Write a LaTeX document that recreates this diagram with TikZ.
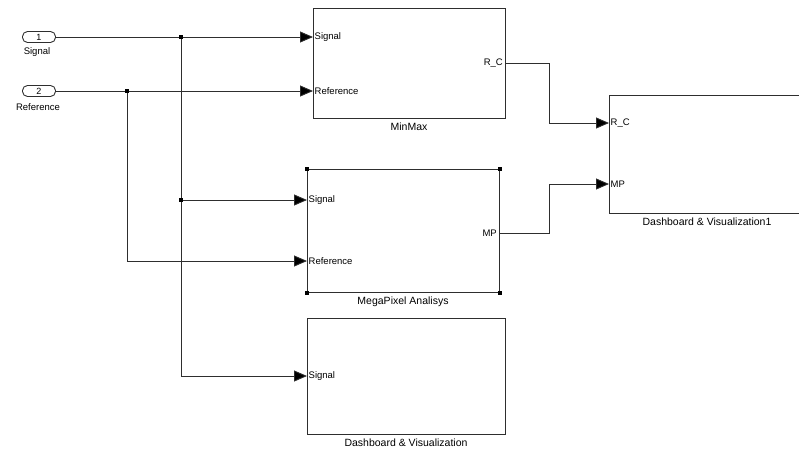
\documentclass[tikz,border=0pt]{standalone}
\usepackage{fontspec}
\setmainfont{Liberation Sans}
\usepackage{xcolor}
\usetikzlibrary{arrows.meta,positioning}
\definecolor{WireInk}{HTML}{2E2E2E}
\tikzset{
  figure/.style={x=1pt,y=-1pt,font=\fontsize{10}{12}\selectfont,text=black},
  block/.style={draw=WireInk,line width=1pt,fill=white,inner sep=0pt},
  inport/.style={draw=WireInk,line width=0.9pt,rounded corners=5pt,minimum width=33pt,minimum height=11pt,inner sep=0pt,font=\fontsize{9}{10}\selectfont},
  portin/.style={anchor=west,inner sep=1.5pt,font=\fontsize{9.5}{10}\selectfont},
  portout/.style={anchor=east,inner sep=2pt,font=\fontsize{9.5}{10}\selectfont},
  caption/.style={font=\fontsize{10.5}{12}\selectfont},
  wire/.style={draw=WireInk,line width=0.9pt},
  flow/.style={wire,-{Triangle[length=13pt,width=11pt,fill=black]}},
}

\begin{document}
\begin{tikzpicture}[figure]
  \useasboundingbox (0,0) rectangle (799,450);
  \clip (0,0) rectangle (799,450);

  % inports
  \node[inport] (in1) at (39,37) {1};
  \node[caption,font=\fontsize{9.5}{10}\selectfont] (in1lab) at (37,52) {Signal};
  \node[inport] (in2) at (39,91) {2};
  \node[caption,font=\fontsize{9.5}{10}\selectfont] (in2lab) at (38,107) {Reference};

  % subsystems
  \node[block,minimum width=192pt,minimum height=110pt] (minmax) at (409,63) {};
  \node[caption,below=1pt of minmax] {MinMax};
  \node[portin] (mmSig) at (313,37) {Signal};
  \node[portin] (mmRef) at (313,91) {Reference};
  \node[portout] (mmRC) at (505,63) {R\_C};

  \node[block,minimum width=192pt,minimum height=123pt] (mega) at (403,230.5) {};
  \node[caption,below=1pt of mega] {MegaPixel Analisys};
  \node[portin] (mpSig) at (307,200) {Signal};
  \node[portin] (mpRef) at (307,261) {Reference};
  \node[portout] (mpMP) at (499,233) {MP};
  \foreach \c in {north west,north east,south west,south east}
    \fill[black] (mega.\c) +(-2,-2) rectangle +(2,2);

  \node[block,minimum width=198pt,minimum height=116pt] (dash) at (406,376) {};
  \node[caption,below=1pt of dash] {Dashboard \& Visualization};
  \node[portin] (dvSig) at (307,376) {Signal};

  \node[block,minimum width=196pt,minimum height=118pt] (dash1) at (707,154) {};
  \node[caption,below=1pt of dash1] {Dashboard \& Visualization1};
  \node[portin] (d1RC) at (609,123) {R\_C};
  \node[portin] (d1MP) at (609,184) {MP};

  % branch points
  \coordinate (tapSig) at (181,37);
  \coordinate (tapRef) at (127,91);

  % wires
  \draw[wire] (in1) -- (tapSig);
  \draw[flow] (tapSig) -- (mmSig.west);
  \draw[flow] (tapSig) |- (mpSig.west);
  \draw[flow] (tapSig) |- (dvSig.west);
  \draw[wire] (in2) -- (tapRef);
  \draw[flow] (tapRef) -- (mmRef.west);
  \draw[flow] (tapRef) |- (mpRef.west);
  \draw[flow] (mmRC.east) -- ++(44,0) |- (d1RC.west);
  \draw[flow] (mpMP.east) -- ++(50,0) |- (d1MP.west);

  \foreach \p in {tapSig,tapRef}
    \fill[black] (\p) +(-1.8,-1.8) rectangle +(1.8,1.8);
  \fill[black] (tapSig |- mpSig.west) +(-1.8,-1.8) rectangle +(1.8,1.8);
\end{tikzpicture}
\end{document}
